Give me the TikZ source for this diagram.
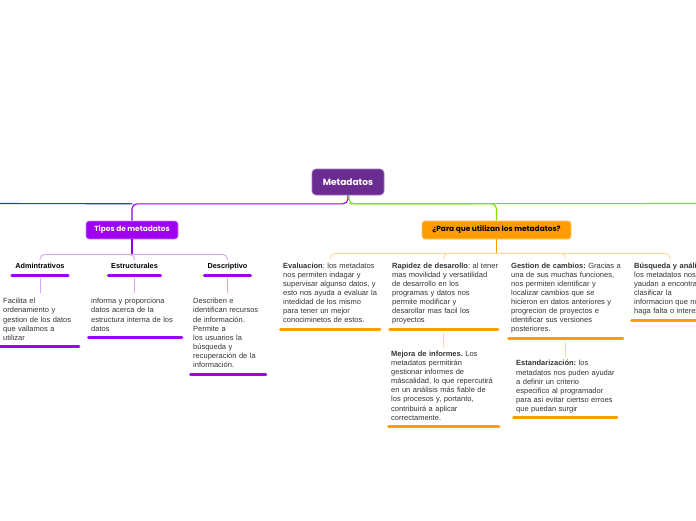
\documentclass[tikz,border=0pt]{standalone}
\usepackage{fontspec}
\usetikzlibrary{calc}
\setmainfont{Liberation Sans}
\newfontfamily\headfont{Poppins}
\definecolor{rootpurple}{HTML}{6A2C91}
\definecolor{rootedge}{HTML}{9B74BE}
\definecolor{violet}{HTML}{A000F2}
\definecolor{violetedge}{HTML}{C98AF5}
\definecolor{lightviolet}{HTML}{D7A6F5}
\definecolor{mainpurple}{HTML}{8A00E6}
\definecolor{mainblue}{HTML}{1F3FDB}
\definecolor{maingreen}{HTML}{82E000}
\definecolor{orangefill}{HTML}{FF9C00}
\definecolor{orangeedge}{HTML}{FFC060}
\definecolor{lightorange}{HTML}{FFD79C}
\definecolor{bodytext}{HTML}{333333}
\begin{document}
\begin{tikzpicture}[x=1pt,y=-1pt,
  body/.style={anchor=north west, text width=#1, align=left, inner sep=0pt,
    font=\fontsize{7.5}{9.1}\selectfont\frenchspacing, text=bodytext, execute at end node=\strut},
  head/.style={anchor=base, text width=#1, align=center, inner sep=0pt,
    text height=5.5pt, text depth=1.5pt, font=\fontsize{7.3}{9}\selectfont\bfseries},
  rootbox/.style={rounded corners=4pt, fill=rootpurple, draw=rootedge, line width=0.6pt,
    minimum width=72pt, minimum height=26pt, inner sep=0pt, text=white,
    font=\headfont\fontsize{9}{10}\selectfont\bfseries},
  subbox/.style={rounded corners=3pt, line width=0.6pt,
    minimum height=18pt, inner sep=0pt, font=\headfont\fontsize{7.4}{8}\selectfont\bfseries},
  vbar/.style={line width=3pt, line cap=round, violet, shorten <=1.5pt, shorten >=1.5pt},
  obar/.style={line width=3pt, line cap=round, orangefill, shorten <=1.5pt, shorten >=1.5pt},
  vconn/.style={line width=0.9pt, lightviolet, rounded corners=5pt},
  oconn/.style={line width=0.9pt, lightorange, rounded corners=5pt},
  mainline/.style={line width=1.1pt, rounded corners=5pt},
]
\useasboundingbox (0,0) rectangle (696,520);

% main nodes
\node[rootbox] (root) at (348,182) {Metadatos};
\node[subbox, fill=violet, draw=violetedge, text=white, minimum width=92pt] (tipos) at (132,230) {Tipos de metadatos};
\node[subbox, fill=orangefill, draw=orangeedge, text=black, minimum width=149pt] (para) at (496.5,230) {¿Para que utilizan los metadatos?};

\coordinate (rj) at ($(root.south)+(0,8.5)$);
\coordinate (leftend) at (0,203.5);
\coordinate (rightend) at (696,203.5);

% main connectors
\draw[mainline, mainpurple] (root.south) -- (rj) -| (tipos.north);
\draw[mainline, maingreen] ([xshift=1pt]root.south) -- ([xshift=1pt]rj) -| (para.north);
\draw[mainline, maingreen] ([xshift=1pt]rj) -- (rightend);
\draw[mainline, mainblue] (leftend) -- ([xshift=0.5pt]tipos.north |- rj);

% Tipos children
\node[head=59pt] (adminH) at (40,268) {Admintrativos};
\node[head=55pt] (estrH) at (134.5,268) {Estructurales};
\node[head=49pt] (descH) at (227.5,268) {Descriptivo};
\foreach \n in {adminH,estrH,descH}
  \draw[vbar] ([yshift=-5.5pt]\n.south west) -- ([yshift=-5.5pt]\n.south east);

\coordinate (tj) at ($(tipos.south)+(0,15)$);
\draw[mainpurple!80!violet, line width=1.1pt] (tipos.south) -- (tj);
\draw[vconn, shorten >=2.5pt] (tj) -| (adminH.north);
\draw[vconn, shorten >=2.5pt] (tj) -| (estrH.north);
\draw[vconn, shorten >=2.5pt] (tj) -| (descH.north);

\node[body=77pt] (adminB) at (3,298.2) {Facilita el\\ordenamiento y\\gestion de los datos\\que vallamos a\\utilizar};
\node[body=92pt] (estrB) at (91,298.2) {informa y proporciona\\datos acerca de la\\estructura interna de los\\datos};
\node[body=74pt] (descB) at (193,298.2) {Describen e\\identifican recursos\\de información.\\Permite a\\los usuarios la\\búsqueda y\\recuperación de la\\información.};
\foreach \n in {adminB,estrB,descB}
  \draw[vbar] ([xshift=-4pt,yshift=-3.6pt]\n.south west) -- ([yshift=-3.6pt]\n.south east);

\draw[line width=0.9pt, lightviolet, shorten <=8.5pt, shorten >=5pt] (adminH.south) -- (adminH.south |- adminB.north);
\draw[line width=0.9pt, lightviolet, shorten <=8.5pt, shorten >=5pt] (estrH.south) -- (estrH.south |- estrB.north);
\draw[line width=0.9pt, lightviolet, shorten <=8.5pt, shorten >=5pt] (descH.south) -- (descH.south |- descB.north);

% Para children
\node[body=98pt] (evalB) at (283,262.5) {\textbf{Evaluacion}: los metadatos\\nos permiten indagar y\\supervisar algunso datos, y\\esto nos ayuda a evaluar la\\intedidad de los mismo\\para tener un mejor\\conociminetos de estos.};
\node[body=121pt] (rapB) at (392,262.5) {\textbf{Rapidez de desarollo}: al tener\\mas movilidad y versatilidad\\de desarrollo en los\\programas y datos nos\\permite modificar y\\desarollar mas facil los\\proyectos};
\node[body=113pt] (gesB) at (511,262.5) {\textbf{Gestion de cambios:} Gracias a\\una de sus muchas funciones,\\nos permiten identificar y\\localizar cambios que se\\hicieron en datos anteriores y\\progrecion de proyectos e\\identificar sus versiones\\posteriores.};
\node[body=80pt] (busB) at (634,262.5) {\textbf{Búsqueda y análisis:}\\los metadatos nos\\yaudan a encontrar y\\clasificar la\\informacion que nos\\haga falta o interese};
\node[body=109pt] (mejB) at (391,350.8) {\textbf{Mejora de informes.} Los\\metadatos permitirán\\gestionar informes de\\máscalidad, lo que repercutirá\\en un análisis más fiable de\\los procesos y, portanto,\\contribuirá a aplicar\\correctamente.};
\node[body=102pt] (estB) at (516,360.2) {\textbf{Estandarización:} los\\metadatos nos puden ayudar\\a definir un criterio\\especifico al programador\\para asi evitar ciertso erroes\\que puedan surgir};
\foreach \n in {evalB,gesB,busB,mejB,estB}
  \draw[obar] ([xshift=-4pt,yshift=-3.6pt]\n.south west) -- ([yshift=-3.6pt]\n.south east);
\draw[obar] ([xshift=-4pt,yshift=-3.6pt]rapB.south west) -- ([xshift=-14pt,yshift=-3.6pt]rapB.south east);

\coordinate (pj) at ($(para.south)+(0,14)$);
\draw[orangefill, line width=1.1pt] (para.south) -- (pj);
\draw[oconn, shorten >=3pt] (pj) -| ([xshift=-2pt]evalB.north);
\draw[oconn, shorten >=3pt] (pj) -| ([xshift=-9pt]rapB.north);
\draw[oconn, shorten >=3pt] (pj) -| ([xshift=-2pt]gesB.north);
\draw[oconn, shorten >=3pt] (pj) -| ([xshift=-4pt]busB.north);
\draw[line width=0.9pt, lightorange, shorten <=7.5pt, shorten >=4pt] ([xshift=-9pt]rapB.south) -- ([xshift=-9pt]rapB.south |- mejB.north);
\draw[line width=0.9pt, lightorange, shorten <=7pt, shorten >=4pt] ([xshift=-2pt]gesB.south) -- ([xshift=-2pt]gesB.south |- estB.north);
\end{tikzpicture}
\end{document}
